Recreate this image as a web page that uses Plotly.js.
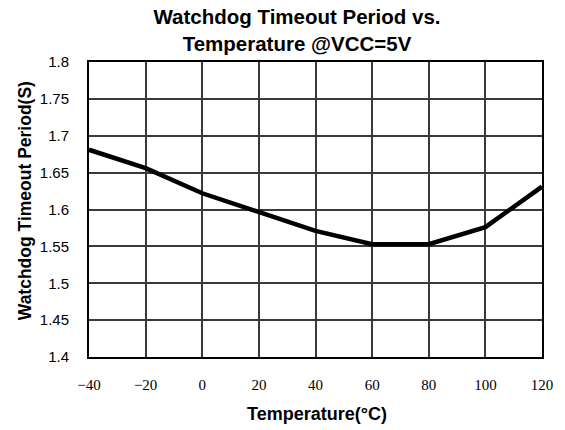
<!DOCTYPE html>
<html>
<head>
<meta charset="utf-8">
<script src="https://cdn.plot.ly/plotly-3.0.1.min.js"></script>
<style>html,body{margin:0;padding:0;background:#fff;}#chart{width:565px;height:430px;}</style>
</head>
<body>
<div id="chart"></div>
<script>
const temperatures = [-40, -20, 0, 20, 40, 60, 80, 100, 120];
const periods = [1.681, 1.656, 1.622, 1.597, 1.571, 1.553, 1.553, 1.576, 1.631];
const xTicks = [-40, -20, 0, 20, 40, 60, 80, 100, 120];
const yTicks = [1.4, 1.45, 1.5, 1.55, 1.6, 1.65, 1.7, 1.75, 1.8];
const titleText = 'Watchdog Timeout Period vs.<br>Temperature @VCC=5V';
const xTitle = 'Temperature(°C)';
const yTitle = 'Watchdog Timeout Period(S)';

const trace = {
  x: temperatures, y: periods, type: 'scatter', mode: 'lines',
  line: {color: '#000', width: 4.5}, hoverinfo: 'x+y'
};

const sans = 'Liberation Sans, Arial, sans-serif';
const layout = {
  width: 565, height: 430,
  margin: {l: 89, r: 23, t: 62, b: 73},
  paper_bgcolor: '#fff', plot_bgcolor: '#fff',
  showlegend: false,
  title: {
    text: titleText,
    font: {family: sans, size: 20.5, color: '#000', weight: 'bold'},
    x: 297 / 565, xref: 'container', xanchor: 'center',
    y: 1 - 24 / 430, yref: 'container', yanchor: 'top'
  },
  xaxis: {
    range: [-40, 120], tickvals: xTicks, ticktext: xTicks.map(v => v < 0 ? '\u2212' + Math.abs(v) : String(v)),
    showgrid: true, gridcolor: '#3a3a3a', gridwidth: 2,
    zeroline: false, showline: true, linecolor: '#000', linewidth: 2, mirror: true,
    ticks: 'outside', ticklen: 13, tickcolor: 'rgba(0,0,0,0)',
    tickfont: {family: 'Liberation Serif, Times New Roman, serif', size: 15, color: '#000'},
    automargin: false, fixedrange: true
  },
  yaxis: {
    range: [1.4, 1.8], tickvals: yTicks,
    showgrid: true, gridcolor: '#3a3a3a', gridwidth: 2,
    zeroline: false, showline: true, linecolor: '#000', linewidth: 2, mirror: true,
    ticks: 'outside', ticklen: 15, tickcolor: 'rgba(0,0,0,0)',
    tickfont: {family: sans, size: 15, color: '#000'},
    automargin: false, fixedrange: true
  },
  annotations: [
    {text: xTitle, showarrow: false, xref: 'paper', yref: 'paper',
     x: (317 - 89) / 453, y: -(413 - 356.5) / 294.5, xanchor: 'center', yanchor: 'middle',
     font: {family: sans, size: 18, color: '#000', weight: 'bold'}},
    {text: yTitle, showarrow: false, xref: 'paper', yref: 'paper', textangle: -90,
     x: (25 - 89) / 453, y: (356.5 - 201) / 294.5, xanchor: 'center', yanchor: 'middle',
     font: {family: sans, size: 17.5, color: '#000', weight: 'bold'}}
  ]
};

Plotly.newPlot('chart', [trace], layout, {displayModeBar: false});
</script>
</body>
</html>
